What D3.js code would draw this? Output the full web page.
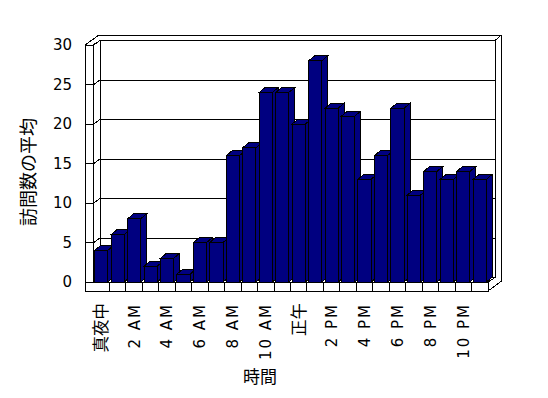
<!DOCTYPE html>
<html>
<head>
<meta charset="utf-8">
<script src="https://cdn.jsdelivr.net/npm/d3@7/dist/d3.min.js"></script>
<style>
  html, body { margin: 0; padding: 0; background: #fff; }
  svg { display: block; }
  text { fill: #000; }
</style>
</head>
<body>
<div id="chart"></div>
<script>
// Hour categories (only even hours carry a label)
const hourLabels = ['真夜中', '', '2 AM', '', '4 AM', '', '6 AM', '', '8 AM', '', '10 AM', '',
  '正午', '', '2 PM', '', '4 PM', '', '6 PM', '', '8 PM', '', '10 PM', ''];
// Average visits per hour
const visits = [4, 6, 8, 2, 3, 1, 5, 5, 16, 17, 24, 24, 20, 28, 22, 21, 13, 16, 22, 11, 14, 13, 14, 13];
const yTicks = [0, 5, 10, 15, 20, 25, 30];
const yTitle = '訪問数の平均';
const xTitle = '時間';

const width = 548;
const height = 398;

const BAR_FILL = '#000080';
const LATIN = '"DejaVu Sans", "Noto Sans CJK JP", sans-serif';
const CJK = '"Noto Sans CJK JP", "DejaVu Sans", sans-serif';

// plot frame (front plane)
const frontLeft = 93, frontRight = 488;
const wallOuter = 85;            // left wall slab front edge
const floorBottom = 291;         // floor slab bottom edge
const wall = { dx: 7, dy: -4.5 }; // depth of wall/floor
const bar = { dx: 6, dy: -5 };    // depth of each column

const svg = d3.select('#chart').append('svg')
  .attr('width', width)
  .attr('height', height)
  .attr('viewBox', `0 0 ${width} ${height}`);

const idx = visits.map((_, i) => i);

const xCat = d3.scaleBand().domain(idx).range([frontLeft, frontRight]);
const xBar = d3.scaleBand().domain(idx).range([frontLeft, frontRight])
  .paddingInner(0.2).paddingOuter(0.1);
const y = d3.scaleLinear().domain([0, 30]).range([282, 45]);

const y0 = y(0), yTop = y(30);
const backLeft = frontLeft + wall.dx;
const backRight = frontRight + wall.dx;

const frame = svg.append('g')
  .attr('fill', 'none')
  .attr('stroke', '#000')
  .attr('stroke-width', 1)
  .attr('shape-rendering', 'crispEdges');

const line = d3.line();

// Gridlines on back wall, with the slant across the side wall and a tick
frame.append('g')
  .selectAll('path')
  .data(yTicks)
  .join('path')
  .attr('d', v => line([
    [wallOuter, y(v)],
    [frontLeft + 1, y(v)],
    [backLeft, y(v) + wall.dy],
    [backRight, y(v) + wall.dy]
  ]));

// Left wall slab and back wall edges
frame.append('path').attr('d', line([[wallOuter, yTop], [wallOuter, floorBottom]]));
frame.append('path').attr('d', line([[frontLeft, yTop], [frontLeft, y0]]));
frame.append('path').attr('d', line([[backLeft, yTop + wall.dy], [backLeft, y0 + wall.dy]]));
frame.append('path').attr('d', line([[backRight, yTop + wall.dy], [backRight, y0 + wall.dy]]));

// outer outline of the slabs
const outerTop = yTop + 2 * wall.dy - 1;
const outerRight = backRight + 6.5;
frame.append('path').attr('d', line([
  [wallOuter, yTop],
  [wallOuter + 2 * wall.dx, outerTop],
  [outerRight, outerTop],
  [outerRight, floorBottom - 10],
  [frontRight, floorBottom]
]));
frame.append('path').attr('d', line([[frontLeft, yTop], [backLeft, yTop + wall.dy]]));
frame.append('path').attr('d', line([[backRight, yTop + wall.dy], [outerRight, outerTop]]));
frame.append('path').attr('d', line([[frontRight, y0], [backRight, y0 + wall.dy]]));

// Floor front face with category dividers
frame.append('path').attr('d', line([[frontLeft, y0], [frontRight, y0], [frontRight, floorBottom], [wallOuter, floorBottom]]));
frame.append('g')
  .selectAll('path')
  .data(idx.slice(1))
  .join('path')
  .attr('d', i => line([[xCat(i), y0], [xCat(i), floorBottom]]));

// Columns, drawn left to right so each hides the side of the previous one
const bars = svg.append('g')
  .attr('fill', BAR_FILL)
  .attr('stroke', '#000')
  .attr('stroke-width', 1)
  .attr('stroke-linejoin', 'miter')
  .attr('shape-rendering', 'crispEdges')
  .selectAll('g')
  .data(visits)
  .join('g');

bars.append('path') // side
  .attr('d', (v, i) => {
    const x1 = xBar(i) + xBar.bandwidth();
    return line([[x1, y(v)], [x1 + bar.dx, y(v) + bar.dy], [x1 + bar.dx, y0 + bar.dy], [x1, y0]]) + 'Z';
  });

bars.append('path') // top
  .attr('d', (v, i) => {
    const x0 = xBar(i), x1 = x0 + xBar.bandwidth();
    return line([[x0, y(v)], [x0 + bar.dx, y(v) + bar.dy], [x1 + bar.dx, y(v) + bar.dy], [x1, y(v)]]) + 'Z';
  });

bars.append('rect') // front
  .attr('x', (v, i) => xBar(i))
  .attr('y', v => y(v))
  .attr('width', xBar.bandwidth())
  .attr('height', v => y0 - y(v));

// Y tick labels
svg.append('g')
  .selectAll('text')
  .data(yTicks)
  .join('text')
  .attr('x', 72)
  .attr('y', v => y(v))
  .attr('dy', '0.36em')
  .attr('text-anchor', 'end')
  .attr('font-family', LATIN)
  .attr('font-size', '15px')
  .text(v => v);

// X tick labels, rotated
svg.append('g')
  .selectAll('text')
  .data(idx.filter(i => hourLabels[i]))
  .join('text')
  .attr('transform', i => `translate(${xCat(i) + xCat.bandwidth() / 2},303) rotate(-90)`)
  .attr('dy', '0.36em')
  .attr('text-anchor', 'end')
  .attr('font-family', LATIN)
  .attr('font-size', '15px')
  .attr('letter-spacing', i => /[A-Z0-9]/.test(hourLabels[i]) ? '2px' : '0px')
  .style('font-size', i => /[A-Z0-9]/.test(hourLabels[i]) ? '15px' : '16.5px')
  .text(i => hourLabels[i]);

// Axis titles
svg.append('text')
  .attr('transform', 'translate(29,172) rotate(-90)')
  .attr('dy', '0.36em')
  .attr('text-anchor', 'middle')
  .attr('font-family', CJK)
  .attr('font-size', '18px')
  .text(yTitle);

svg.append('text')
  .attr('x', 260)
  .attr('y', 377)
  .attr('dy', '0.36em')
  .attr('text-anchor', 'middle')
  .attr('font-family', CJK)
  .attr('font-size', '17px')
  .text(xTitle);
</script>
</body>
</html>
